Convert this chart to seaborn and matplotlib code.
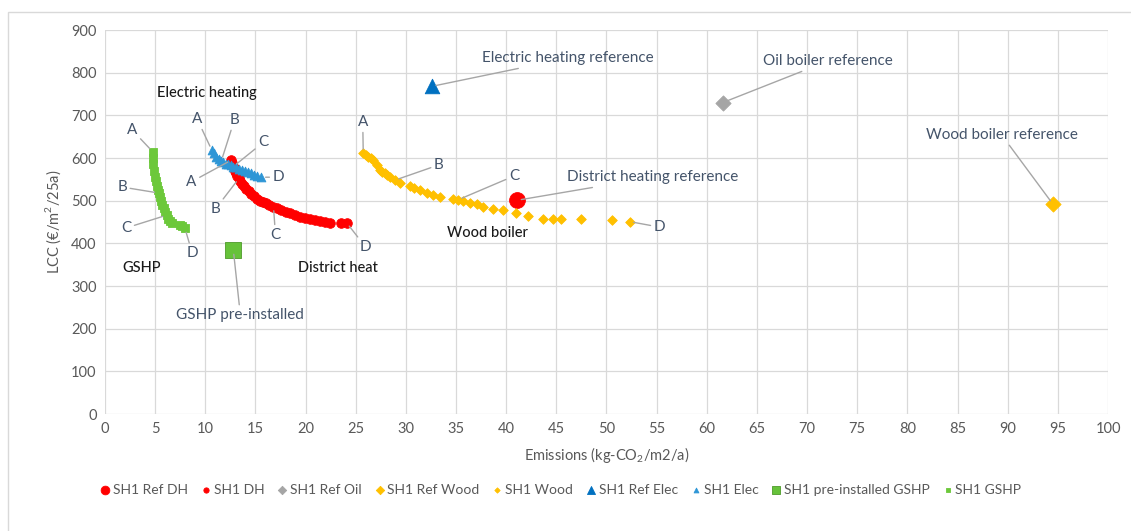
import numpy as np
import pandas as pd
import seaborn as sns
import matplotlib.pyplot as plt
from matplotlib.patches import Rectangle

# series (emissions kg-CO2/m2/a, LCC €/m2/25a)
gshp_x = [4.75, 4.78, 4.82, 4.88, 4.95, 5.05, 5.15, 5.25, 5.35, 5.48, 5.6, 5.72,
          5.85, 6.0, 6.15, 6.3, 6.48, 6.65, 7.48, 7.7, 7.98]
gshp_y = [615, 600, 585, 570, 556, 545, 535, 526, 518, 508, 499, 490,
          482, 474, 466, 458, 452, 447, 443, 440, 435]

elec_x = [10.64, 10.85, 11.1, 11.35, 11.6, 11.8, 12.05, 12.3, 12.55, 12.8, 13.1,
          13.4, 13.7, 14.0, 14.3, 14.6, 14.9, 15.2, 15.6]
elec_y = [619, 611, 603, 597, 593, 590, 587, 585, 583, 580, 578,
          575, 572, 569, 567, 564, 561, 558, 555]

dh_x = [12.6, 12.7, 12.8, 12.9, 13.0, 13.1, 13.2, 13.35, 13.5, 13.7, 13.9, 14.1,
        14.35, 14.6, 14.9, 15.2, 15.5, 15.8, 16.1, 16.4, 16.8, 17.2, 17.6, 18.0,
        18.4, 18.9, 19.4, 19.9, 20.4, 20.9, 21.4, 21.9, 22.4, 23.5, 24.1]
dh_y = [595, 588, 582, 576, 570, 564, 558, 552, 546, 540, 534, 528,
        522, 516, 510, 505, 500, 497, 494, 490, 486, 482, 478, 474,
        470, 466, 462, 459, 456, 454, 452, 450, 448, 448, 448]

wood_x = [25.75, 26.0, 26.25, 26.5, 26.75, 27.1, 27.4, 27.65, 27.9, 28.15, 28.4,
          28.9, 29.4, 30.4, 30.8, 31.4, 32.1, 32.7, 33.4, 34.7, 35.2, 35.7, 36.4,
          37.05, 37.7, 38.7, 39.7, 41.0, 42.2, 43.7, 44.7, 45.5, 47.5, 50.5, 52.3]
wood_y = [611, 607, 603, 599, 595, 584, 572, 568, 564, 560, 556,
          548, 541, 534, 530, 525, 519, 513, 509, 505, 502, 500, 495,
          492, 486, 481, 478, 470, 464, 458, 458, 458, 456, 455, 451]

ref_dh = (41.1, 501)
ref_oil = (61.6, 730)
ref_wood = (94.5, 492)
ref_elec = (32.6, 768)
ref_gshp = (12.8, 384)

# names in legend order
legend_names = ["SH1 Ref DH", "SH1 DH", "SH1 Ref Oil", "SH1 Ref Wood", "SH1 Wood",
                "SH1 Ref Elec", "SH1 Elec", "SH1 pre-installed GSHP", "SH1 GSHP"]

sns.set_style("white")
plt.rcParams['font.family'] = ['Lato', 'DejaVu Sans']
plt.rcParams['mathtext.fontset'] = 'custom'
plt.rcParams['mathtext.rm'] = 'Lato'

fig = plt.figure(figsize=(11.31, 5.31), dpi=100)
ax = fig.add_axes([0.0928, 0.2203, 0.8869, 0.7232])

# outer chart frame (Excel style)
fig.patches.append(Rectangle((0.007, -0.01), 1.0, 0.988, transform=fig.transFigure,
                             fill=False, edgecolor="#D9D9D9", lw=1))

def pts(xs, ys):
    return pd.DataFrame({"x": xs, "y": ys})

grey = "#595959"
series = [
    (pts([ref_dh[0]], [ref_dh[1]]), "o", "#FF0000", 130, "#FF0000"),
    (pts(dh_x, dh_y), "o", "#FF0000", 48, "#FF0000"),
    (pts([ref_oil[0]], [ref_oil[1]]), "D", "#A5A5A5", 60, "#A5A5A5"),
    (pts([ref_wood[0]], [ref_wood[1]]), "D", "#FFC000", 60, "#FFC000"),
    (pts(wood_x, wood_y), "D", "#FFC000", 24, "#FFC000"),
    (pts([ref_elec[0]], [ref_elec[1]]), "^", "#0070C0", 110, "#0070C0"),
    (pts(elec_x, elec_y), "^", "#2E96D6", 40, "#2E96D6"),
    (pts([ref_gshp[0]], [ref_gshp[1]]), "s", "#66C23A", 130, "#4E9A2A"),
    (pts(gshp_x, gshp_y), "s", "#6CC83A", 40, "#6CC83A"),
]
for (df, mk, col, size, ec), name in zip(series, legend_names):
    sns.scatterplot(data=df, x="x", y="y", marker=mk, color=col, s=size,
                    edgecolor=ec, linewidth=0.6, label=name, ax=ax, zorder=3)

ax.set_xlim(0, 100)
ax.set_ylim(0, 900)
ax.set_xticks(np.arange(0, 101, 5))
ax.set_yticks(np.arange(0, 901, 100))
ax.grid(True, color="#D9D9D9", lw=0.9)
for s in ax.spines.values():
    s.set_visible(False)
ax.tick_params(length=0, labelsize=10.5, colors=grey, pad=6)
ax.set_xlabel("Emissions (kg-CO$_2$/m2/a)", fontsize=10.5, color=grey, labelpad=6)
ax.set_ylabel("LCC (€/m$^2$/25a)", fontsize=10.5, color=grey, labelpad=6)

lab_col = "#44546A"
line_kw = dict(arrowstyle="-", color="#A6A6A6", lw=1, shrinkA=0, shrinkB=3)

def note(text, xy, xytext, ha="center", size=11):
    ax.annotate(text, xy=xy, xytext=xytext, ha=ha, va="center", fontsize=size,
                color=lab_col, arrowprops=line_kw, zorder=4)

# letters on the fronts
note("A", (gshp_x[0], gshp_y[0]), (2.7, 666))
note("B", (gshp_x[8], gshp_y[8]), (1.7, 532))
note("C", (gshp_x[14], gshp_y[14]), (2.1, 436))
note("D", (gshp_x[-1], gshp_y[-1]), (8.7, 377))
note("A", (elec_x[0], elec_y[0]), (9.2, 691))
note("B", (elec_x[4], elec_y[4]), (12.9, 689))
note("C", (elec_x[9], elec_y[9]), (15.8, 637))
note("D", (elec_x[-1], elec_y[-1]), (17.3, 555))
note("A", (dh_x[0], dh_y[0]), (8.6, 544))
note("B", (dh_x[7], dh_y[7]), (11.0, 480))
note("C", (dh_x[20], dh_y[20]), (17.0, 420))
note("D", (dh_x[-1], dh_y[-1]), (26.0, 391))
note("A", (wood_x[0], wood_y[0]), (25.7, 684))
note("B", (wood_x[11], wood_y[11]), (33.3, 584))
note("C", (wood_x[20], wood_y[20]), (40.8, 558))
note("D", (wood_x[-1], wood_y[-1]), (55.3, 438))

# reference labels
note("District heating reference", ref_dh, (46.1, 555), ha="left")
note("Electric heating reference", ref_elec, (37.6, 834), ha="left")
note("Oil boiler reference", ref_oil, (65.6, 827), ha="left")
note("Wood boiler reference", ref_wood, (89.4, 654))
note("GSHP pre-installed", ref_gshp, (13.5, 232))

# group names
for txt, x, y in [("Electric heating", 10.2, 752), ("GSHP", 3.7, 342),
                  ("District heat", 23.2, 342), ("Wood boiler", 38.1, 424)]:
    ax.text(x, y, txt, ha="center", va="center", fontsize=10.5, color="#1a1a1a",
            fontweight="medium")

handles, labels = ax.get_legend_handles_labels()
ax.legend_.remove()
fig.legend(handles, labels, loc="center", bbox_to_anchor=(0.495, 0.077), ncol=9,
           frameon=False, fontsize=10, labelcolor=grey, handletextpad=0.05,
           columnspacing=0.8, handlelength=1.0, markerscale=0.55)

fig.savefig("out.png", dpi=100)
